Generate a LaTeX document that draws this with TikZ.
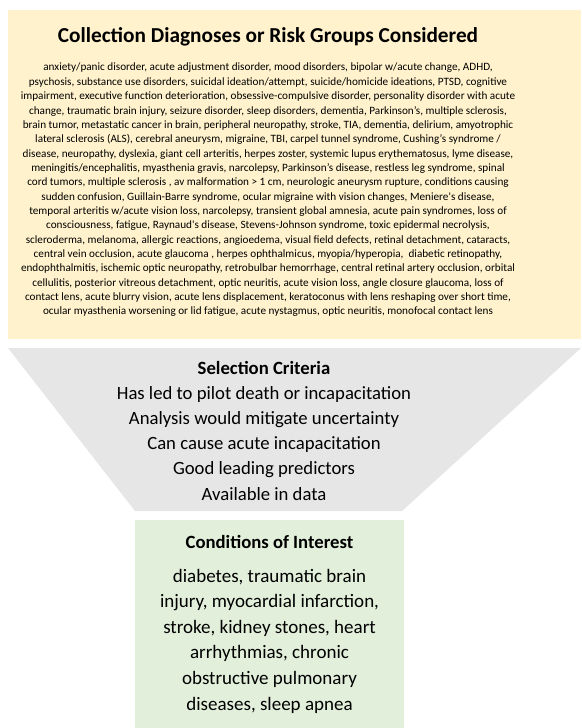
\documentclass[tikz,border=0pt]{standalone}
\usepackage{fontspec}
\setmainfont{Carlito}
\definecolor{yellowbg}{HTML}{FFF2CC}
\definecolor{greybg}{HTML}{E7E6E6}
\definecolor{greenbg}{HTML}{E2EFDA}
\tikzset{
  txt/.style={align=center, inner sep=0pt, text=black},
  smalltxt/.style={txt, font=\fontsize{11.2}{14.35}\selectfont},
  bigtxt/.style={txt, font=\fontsize{18.7}{25.2}\selectfont},
}
\begin{document}
\begin{tikzpicture}[x=1pt,y=-1pt]
\useasboundingbox (0,0) rectangle (581,728);
% shapes
\fill[yellowbg] (8,10) rectangle (581,339);
\fill[greybg] (8,348) -- (581,348) -- (402,511) -- (135,511) -- cycle;
\fill[greenbg] (135,520) rectangle (404,728);
% top box
\node[txt, font=\fontsize{21.3}{24}\selectfont\bfseries] (title) at (268,37) {Collection Diagnoses or Risk Groups Considered};
\node[smalltxt] (list) at (268,190) {anxiety/panic disorder, acute adjustment disorder, mood disorders, bipolar w/acute change, ADHD,\\
psychosis, substance use disorders, suicidal ideation/attempt, suicide/homicide ideations, PTSD, cognitive\\
impairment, executive function deterioration, obsessive-compulsive disorder, personality disorder with acute\\
change, traumatic brain injury, seizure disorder, sleep disorders, dementia, Parkinson’s, multiple sclerosis,\\
brain tumor, metastatic cancer in brain, peripheral neuropathy, stroke, TIA, dementia, delirium, amyotrophic\\
lateral sclerosis (ALS), cerebral aneurysm, migraine, TBI, carpel tunnel syndrome, Cushing’s syndrome /\\
disease, neuropathy, dyslexia, giant cell arteritis, herpes zoster, systemic lupus erythematosus, lyme disease,\\
meningitis/encephalitis, myasthenia gravis, narcolepsy, Parkinson’s disease, restless leg syndrome, spinal\\
cord tumors, multiple sclerosis , av malformation > 1 cm, neurologic aneurysm rupture, conditions causing\\
sudden confusion, Guillain-Barre syndrome, ocular migraine with vision changes, Meniere\textquotesingle s disease,\\
temporal arteritis w/acute vision loss, narcolepsy, transient global amnesia, acute pain syndromes, loss of\\
consciousness, fatigue, Raynaud\textquotesingle s disease, Stevens-Johnson syndrome, toxic epidermal necrolysis,\\
scleroderma, melanoma, allergic reactions, angioedema, visual field defects, retinal detachment, cataracts,\\
central vein occlusion, acute glaucoma , herpes ophthalmicus, myopia/hyperopia,\ \ diabetic retinopathy,\\
endophthalmitis, ischemic optic neuropathy, retrobulbar hemorrhage, central retinal artery occlusion, orbital\\
cellulitis, posterior vitreous detachment, optic neuritis, acute vision loss, angle closure glaucoma, loss of\\
contact lens, acute blurry vision, acute lens displacement, keratoconus with lens reshaping over short time,\\
ocular myasthenia worsening or lid fatigue, acute nystagmus, optic neuritis, monofocal contact lens};
% selection criteria
\node[bigtxt] (crit) at (264,430.5) {\textbf{Selection Criteria}\\
Has led to pilot death or incapacitation\\
Analysis would mitigate uncertainty\\
Can cause acute incapacitation\\
Good leading predictors\\
Available in data};
% conditions
\node[txt, font=\fontsize{18.7}{22}\selectfont\bfseries] (condtitle) at (269.5,542) {Conditions of Interest};
\node[txt, font=\fontsize{19}{25.6}\selectfont] (cond) at (269.5,641) {diabetes, traumatic brain\\
injury, myocardial infarction,\\
stroke, kidney stones, heart\\
arrhythmias, chronic\\
obstructive pulmonary\\
diseases, sleep apnea};
\end{tikzpicture}
\end{document}
